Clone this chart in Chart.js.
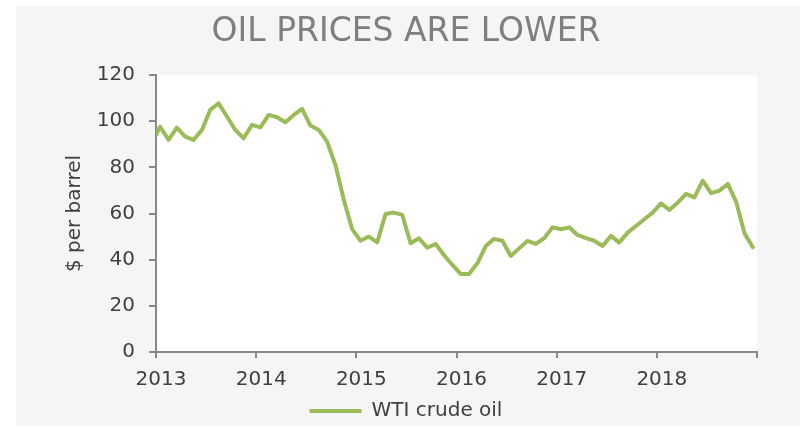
<!DOCTYPE html>
<html>
<head>
<meta charset="utf-8">
<title>Oil prices are lower</title>
<script src="https://cdn.jsdelivr.net/npm/chart.js@4"></script>
<style>
  html, body { margin: 0; padding: 0; background: #ffffff; overflow: hidden; }
  #wrap { width: 800px; height: 426px; }
</style>
</head>
<body>
<div id="wrap"><canvas id="oilChart"></canvas></div>
<script>
// WTI crude oil, monthly average ($ per barrel), Jan 2013 - Dec 2018
const years = [2013, 2014, 2015, 2016, 2017, 2018];
const xTickLabels = ["2013", "2014", "2015", "2016", "2017", "2018", ""];
const startPrice = 94.0; // value where the line meets the y axis
const wtiPrices = [
  97.6, 91.9, 97.2, 93.3, 91.9, 96.2, 104.9, 107.7, 102.0, 96.2, 92.6, 98.4,
  97.3, 102.7, 101.7, 99.5, 102.7, 105.3, 98.1, 96.2, 91.1, 81.0, 65.9, 53.2,
  48.2, 50.0, 47.5, 59.8, 60.4, 59.4, 47.1, 49.3, 45.2, 46.8, 42.0, 37.7,
  33.8, 33.8, 38.4, 45.9, 49.0, 48.2, 41.6, 44.9, 48.1, 46.8, 49.3, 54.0,
  53.2, 54.0, 50.7, 49.3, 48.2, 45.9, 50.3, 47.4, 51.7, 54.6, 57.5, 60.4,
  64.4, 61.5, 64.7, 68.5, 67.0, 74.2, 68.8, 69.9, 72.8, 65.1, 51.4, 45.4
];

const GREEN = "#9bbb59";
const AXIS = "#898989";
const TEXT = "#404040";

// monthly points sit in the middle of each month
const points = [{ x: years[0], y: startPrice }];
wtiPrices.forEach((v, i) => {
  const yr = years[Math.floor(i / 12)];
  points.push({ x: yr + ((i % 12) + 0.5) / 12, y: v });
});

Chart.defaults.font.family = "'DejaVu Sans', Verdana, sans-serif";
Chart.defaults.color = TEXT;

// grey panel + white plot area
const backdrop = {
  id: "backdrop",
  beforeDraw(chart) {
    const { ctx, chartArea } = chart;
    ctx.save();
    ctx.fillStyle = "#f5f5f5";
    ctx.fillRect(16, 6, 784, 420);
    ctx.fillStyle = "#ffffff";
    ctx.fillRect(chartArea.left, chartArea.top,
      chartArea.right - chartArea.left, chartArea.bottom - chartArea.top);
    ctx.restore();
  }
};

new Chart(document.getElementById("oilChart"), {
  type: "line",
  data: {
    datasets: [{
      label: "WTI crude oil",
      data: points,
      borderColor: GREEN,
      backgroundColor: GREEN,
      borderWidth: 4,
      pointRadius: 0,
      tension: 0,
      borderJoinStyle: "round",
      borderCapStyle: "round"
    }]
  },
  options: {
    responsive: true,
    maintainAspectRatio: false,
    animation: false,
    layout: { padding: { left: 12, right: 0, top: 0, bottom: -5 } },
    plugins: {
      title: {
        display: true,
        text: "OIL PRICES ARE LOWER",
        color: "#7f7f7f",
        font: { size: 33, weight: "normal" },
        padding: { top: 13, bottom: 22.4 }
      },
      legend: {
        position: "bottom",
        labels: {
          font: { size: 20 },
          color: TEXT,
          boxWidth: 52,
          boxHeight: 4,
          padding: 4,
          generateLabels: (chart) =>
            Chart.defaults.plugins.legend.labels.generateLabels(chart).map(l => ({
              ...l, fillStyle: GREEN, strokeStyle: GREEN, lineWidth: 0
            }))
        }
      },
      tooltip: { enabled: false }
    },
    scales: {
      x: {
        type: "linear",
        min: 2013,
        max: 2019,
        afterFit: (axis) => { axis.height = 45; },
        afterBuildTicks: (axis) => {
          axis.ticks = xTickLabels.map((_, i) => ({ value: 2013 + i }));
        },
        ticks: {
          stepSize: 1,
          padding: 10,
          labelOffset: 5,
          maxRotation: 0,
          autoSkip: false,
          font: { size: 20 },
          color: TEXT,
          callback: (value) => xTickLabels[Math.round(value) - 2013]
        },
        grid: { drawOnChartArea: false, drawTicks: true, tickLength: 6, color: AXIS, lineWidth: 2 },
        border: { display: true, color: AXIS, width: 2 }
      },
      y: {
        min: 0,
        max: 120,
        afterFit: (axis) => { axis.width = 144; },
        ticks: { stepSize: 20, padding: 14, font: { size: 20 }, color: TEXT },
        grid: { drawOnChartArea: false, drawTicks: true, tickLength: 7, color: AXIS, lineWidth: 2 },
        border: { display: true, color: AXIS, width: 2 },
        title: {
          display: true,
          text: "$ per barrel",
          font: { size: 20 },
          color: TEXT,
          padding: { top: 51, bottom: 0 }
        }
      },
      // empty right-hand spacer so the plot ends where the reference does
      spacer: {
        position: "right",
        display: true,
        afterFit: (axis) => { axis.width = 43; },
        ticks: { display: false },
        grid: { display: false },
        border: { display: false }
      }
    }
  },
  plugins: [backdrop]
});
</script>
</body>
</html>
